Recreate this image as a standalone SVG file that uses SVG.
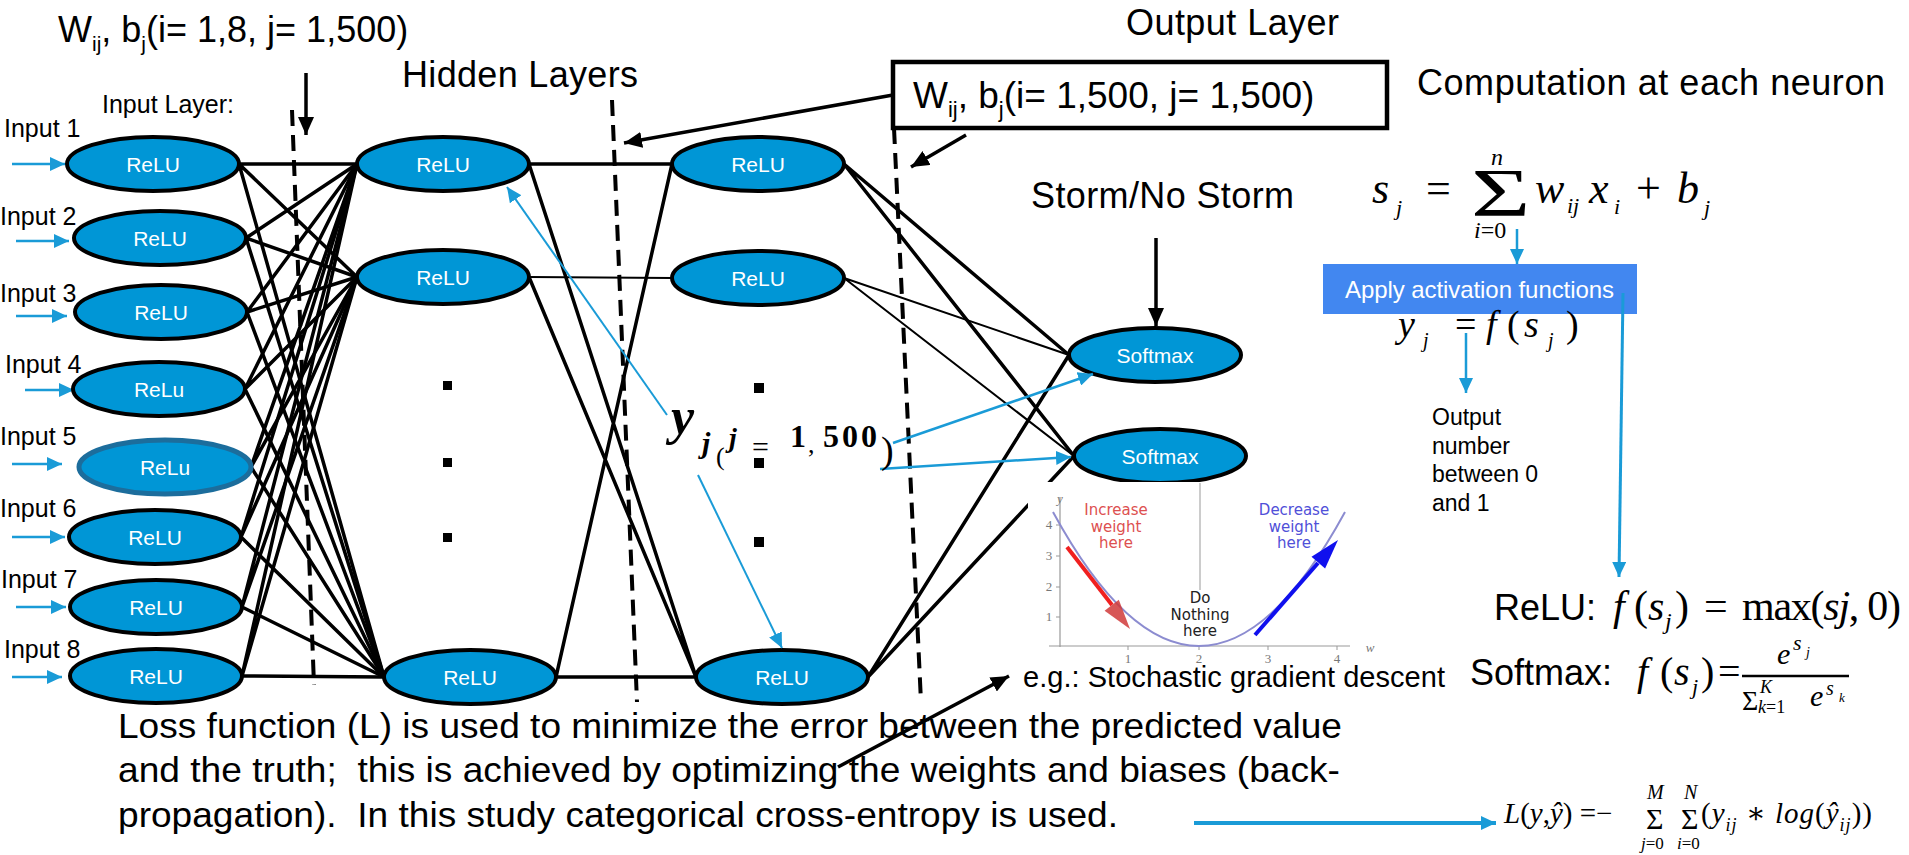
<svg xmlns="http://www.w3.org/2000/svg" width="1909" height="855" viewBox="0 0 1909 855">
<style>
.lbl{font-family:"Liberation Sans",Arial,sans-serif;fill:#000}
.node{fill:#0096d6;stroke:#000;stroke-width:4}
.nt{font-family:"Liberation Sans",Arial,sans-serif;font-size:21px;fill:#fff;text-anchor:middle}
.e{stroke:#000;stroke-width:3.5;fill:none}
.thin{stroke-width:2}
.dash{stroke:#000;stroke-width:4;stroke-dasharray:16 9;fill:none}
.ba{stroke:#1a9bd7;fill:none}
.m{font-family:"Liberation Serif","Times New Roman","DejaVu Serif",serif;fill:#000}
.it{font-style:italic}
.up{font-style:normal}
.pt{font-family:"DejaVu Sans","Liberation Sans",sans-serif;font-size:15px;text-anchor:middle}
.tk{font-family:"Liberation Serif",serif;font-size:13px;fill:#777;text-anchor:middle}
</style>
<defs>
<marker id="ak" markerUnits="userSpaceOnUse" markerWidth="20" markerHeight="16" refX="18" refY="8" orient="auto"><path d="M0,0 L18,8 L0,16 Z" fill="#000"/></marker>
<marker id="ab" markerUnits="userSpaceOnUse" markerWidth="16" markerHeight="14" refX="15" refY="7" orient="auto"><path d="M0,0 L15,7 L0,14 Z" fill="#1a9bd7"/></marker>
</defs>
<rect width="1909" height="855" fill="#fff"/>

<!-- connectors -->
<g id="connectors">
<g class="e">
<path d="M239,164 L357,164 M239,164 L357,277 M239,164 L384,677"/>
<path d="M246,238 L357,164 M246,238 L357,277 M246,238 L384,677"/>
<path d="M247,312 L357,164 M247,312 L357,277 M247,312 L384,677"/>
<path d="M245,389 L357,164 M245,389 L357,277 M245,389 L384,677"/>
<path d="M251,467 L357,164 M251,467 L357,277 M251,467 L384,677"/>
<path d="M241,537 L357,164 M241,537 L357,277 M241,537 L384,677"/>
<path d="M242,607 L357,164 M242,607 L357,277 M242,607 L384,677"/>
<path d="M242,676 L357,164 M242,676 L357,277 M242,676 L384,677"/>
<path d="M529,164 L672,164 M556,677 L696,677 M529,164 L696,677 M529,277 L696,677 M556,677 L672,164"/>
<path class="thin" d="M529,277 L672,278"/>
<path d="M844,164 L1069,355 M844,164 L1074,456 M868,677 L1069,355 M868,677 L1074,456"/>
<path class="thin" d="M844,278 L1069,355 M844,278 L1074,456"/>
</g>
<path class="dash" d="M292,110 L314,685"/>
<path class="dash" d="M612,100 L637,702"/>
<path class="dash" d="M894,128 L921,702"/>
<g class="e" marker-end="url(#ak)">
<path d="M306,73 L306,135"/>
<path d="M893,95 L624,143"/>
<path d="M966,135 L911,167"/>
<path d="M1156,238 L1156,326"/>
<path d="M838,767 L1009,676"/>
</g>
<g class="ba" stroke-width="2.5" marker-end="url(#ab)">
<path d="M12,164 L65,164"/>
<path d="M16,241 L69,241"/>
<path d="M16,316 L67,316"/>
<path d="M25,390 L74,390"/>
<path d="M12,464 L62,464"/>
<path d="M12,537 L65,537"/>
<path d="M16,607 L66,607"/>
<path d="M12,677 L62,677"/>
</g>
</g>

<!-- input layer nodes -->
<g id="input1"><ellipse class="node" cx="153" cy="164" rx="86" ry="27"/><text class="nt" x="153" y="172">ReLU</text></g>
<g id="input2"><ellipse class="node" cx="160" cy="238" rx="86" ry="27"/><text class="nt" x="160" y="246">ReLU</text></g>
<g id="input3"><ellipse class="node" cx="161" cy="312" rx="86" ry="27"/><text class="nt" x="161" y="320">ReLU</text></g>
<g id="input4"><ellipse class="node" cx="159" cy="389" rx="86" ry="27"/><text class="nt" x="159" y="397">ReLu</text></g>
<g id="input5"><ellipse class="node" cx="165" cy="467" rx="86" ry="27" style="stroke:#1c6d9c;stroke-width:5"/><text class="nt" x="165" y="475">ReLu</text></g>
<g id="input6"><ellipse class="node" cx="155" cy="537" rx="86" ry="27"/><text class="nt" x="155" y="545">ReLU</text></g>
<g id="input7"><ellipse class="node" cx="156" cy="607" rx="86" ry="27"/><text class="nt" x="156" y="615">ReLU</text></g>
<g id="input8"><ellipse class="node" cx="156" cy="676" rx="86" ry="27"/><text class="nt" x="156" y="684">ReLU</text></g>

<!-- hidden layer 1 -->
<g id="h1a"><ellipse class="node" cx="443" cy="164" rx="86" ry="27"/><text class="nt" x="443" y="172">ReLU</text></g>
<g id="h1b"><ellipse class="node" cx="443" cy="277" rx="86" ry="27"/><text class="nt" x="443" y="285">ReLU</text></g>
<g id="h1c"><ellipse class="node" cx="470" cy="677" rx="86" ry="27"/><text class="nt" x="470" y="685">ReLU</text></g>
<g id="h1dots" fill="#000"><rect x="443" y="381" width="9" height="9"/><rect x="443" y="458" width="9" height="9"/><rect x="443" y="533" width="9" height="9"/></g>

<!-- hidden layer 2 -->
<g id="h2a"><ellipse class="node" cx="758" cy="164" rx="86" ry="27"/><text class="nt" x="758" y="172">ReLU</text></g>
<g id="h2b"><ellipse class="node" cx="758" cy="278" rx="86" ry="27"/><text class="nt" x="758" y="286">ReLU</text></g>
<g id="h2c"><ellipse class="node" cx="782" cy="677" rx="86" ry="27"/><text class="nt" x="782" y="685">ReLU</text></g>
<g id="h2dots" fill="#000"><rect x="754" y="383" width="10" height="10"/><rect x="754" y="458" width="10" height="10"/><rect x="754" y="537" width="10" height="10"/></g>

<!-- output layer -->
<g id="out1"><ellipse class="node" cx="1155" cy="355" rx="86" ry="27"/><text class="nt" x="1155" y="363">Softmax</text></g>
<g id="out2"><ellipse class="node" cx="1160" cy="456" rx="86" ry="27"/><text class="nt" x="1160" y="464">Softmax</text></g>

<!-- gradient descent plot -->
<g id="plot">
<rect x="1028" y="482" width="352" height="184" fill="#fff"/>
<path d="M1060,497 L1060,647 M1049,646 L1350,646" stroke="#999" stroke-width="1.2" fill="none"/>
<path d="M1128,646 v4 M1199,646 v4 M1268,646 v4 M1337,646 v4 M1060,525 h-4 M1060,556 h-4 M1060,587 h-4 M1060,617 h-4" stroke="#999" stroke-width="1" fill="none"/>
<path d="M1200,483 L1200,590" stroke="#999" stroke-width="1" fill="none"/>
<path d="M1053,512 Q1199,780 1345,512" stroke="#8c8cd0" stroke-width="2" fill="none"/>
<text class="tk" x="1049" y="529">4</text><text class="tk" x="1049" y="560">3</text><text class="tk" x="1049" y="591">2</text><text class="tk" x="1049" y="621">1</text>
<text class="tk" x="1128" y="663">1</text><text class="tk" x="1199" y="663">2</text><text class="tk" x="1268" y="663">3</text><text class="tk" x="1337" y="663">4</text>
<text class="tk it" x="1060" y="503">y</text><text class="tk it" x="1370" y="652">w</text>
<text class="pt" fill="#dd5050"><tspan x="1116" y="515">Increase</tspan><tspan x="1116" y="532">weight</tspan><tspan x="1116" y="548">here</tspan></text>
<text class="pt" fill="#5050d8"><tspan x="1294" y="515">Decrease</tspan><tspan x="1294" y="532">weight</tspan><tspan x="1294" y="548">here</tspan></text>
<text class="pt" fill="#222"><tspan x="1200" y="603">Do</tspan><tspan x="1200" y="620">Nothing</tspan><tspan x="1200" y="636">here</tspan></text>
<path d="M1067,547 L1112,605" stroke="#f02020" stroke-width="4" fill="none"/>
<path d="M1130,629 L1104.6,610.7 L1118.8,599.7 Z" fill="#d03a3a" fill-opacity="0.85"/>
<path d="M1255,635 L1318,563" stroke="#1010ee" stroke-width="4" fill="none"/>
<path d="M1338,540 L1325.1,568.5 L1311.5,556.7 Z" fill="#1010ee"/>
</g>

<!-- blue annotation arrows -->
<g class="ba" marker-end="url(#ab)">
<path d="M667,415 L507,187" stroke-width="2"/>
<path d="M698,475 L782,648" stroke-width="2"/>
<path d="M893,443 L1093,374" stroke-width="2.5"/>
<path d="M880,469 L1071,457" stroke-width="2.5"/>
</g>

<!-- labels -->
<text class="lbl" x="58" y="42" font-size="36">W<tspan font-size="21" dy="9">ij</tspan><tspan dy="-9">, b</tspan><tspan font-size="21" dy="9">j</tspan><tspan dy="-9">(i= 1,8, j= 1,500)</tspan></text>
<text class="lbl" x="402" y="87" font-size="36" textLength="236">Hidden Layers</text>
<text class="lbl" x="102" y="113" font-size="25">Input Layer:</text>
<g class="lbl" font-size="25">
<text x="4" y="137">Input 1</text>
<text x="0" y="225">Input 2</text>
<text x="0" y="302">Input 3</text>
<text x="5" y="373">Input 4</text>
<text x="0" y="445">Input 5</text>
<text x="0" y="517">Input 6</text>
<text x="1" y="588">Input 7</text>
<text x="4" y="658">Input 8</text>
</g>
<text class="lbl" x="1126" y="35" font-size="36" textLength="213">Output Layer</text>
<g id="wbox"><rect x="893" y="62" width="494" height="66" fill="#fff" stroke="#000" stroke-width="4.5"/>
<text class="lbl" x="913" y="108" font-size="37">W<tspan font-size="22" dy="9">ij</tspan><tspan dy="-9">, b</tspan><tspan font-size="22" dy="9">j</tspan><tspan dy="-9">(i= 1,500, j= 1,500)</tspan></text></g>
<text class="lbl" x="1031" y="208" font-size="36" textLength="263">Storm/No Storm</text>

<!-- y_j label -->
<g class="m" font-weight="bold">
<text x="671" y="434" font-size="52" class="it">y</text>
<text x="702" y="453" font-size="30" class="it">j</text>
<text x="716" y="465" font-size="26" font-weight="normal">(</text>
<text x="729" y="447" font-size="28" class="it">j</text>
<text x="752" y="457" font-size="30" font-weight="normal">=</text>
<text x="790" y="447" font-size="32">1</text>
<text x="808" y="453" font-size="26" font-weight="normal">,</text>
<text x="823" y="447" font-size="32" letter-spacing="3">500</text>
<text x="881" y="463" font-size="38" font-weight="normal">)</text>
</g>

<!-- loss text -->
<g class="lbl" font-size="35">
<text x="118" y="738" textLength="1224" lengthAdjust="spacingAndGlyphs">Loss function (L) is used to minimize the error between the predicted value</text>
<text x="118" y="782" textLength="1222" lengthAdjust="spacingAndGlyphs" xml:space="preserve">and the truth;  this is achieved by optimizing the weights and biases (back-</text>
<text x="118" y="827" textLength="1000" lengthAdjust="spacingAndGlyphs" xml:space="preserve">propagation).  In this study categorical cross-entropy is used.</text>
</g>
<text class="lbl" x="1023" y="687" font-size="29" textLength="422">e.g.: Stochastic gradient descent</text>

<!-- computation panel -->
<text class="lbl" x="1417" y="95" font-size="36" textLength="468">Computation at each neuron</text>
<g class="m it">
<text x="1372" y="203" font-size="44">s</text><text x="1396" y="215" font-size="22">j</text>
<text x="1426" y="203" font-size="44" class="up">=</text>
<text transform="translate(1471,215) scale(1.5,1)" font-size="68" class="up">Σ</text>
<text x="1491" y="165" font-size="24">n</text>
<text x="1474" y="238" font-size="24">i<tspan class="up">=0</tspan></text>
<text x="1535" y="203" font-size="44">w</text><text x="1567" y="213" font-size="22">ij</text>
<text x="1589" y="203" font-size="44">x</text><text x="1614" y="214" font-size="22">i</text>
<text x="1636" y="203" font-size="44" class="up">+</text>
<text x="1677" y="203" font-size="44">b</text><text x="1704" y="215" font-size="22">j</text>
</g>
<g id="activation"><rect x="1323" y="264" width="314" height="50" fill="#4287f0"/>
<text class="lbl" x="1345" y="298" font-size="24" style="fill:#fff" textLength="269">Apply activation functions</text></g>
<g class="m it">
<text x="1398" y="337" font-size="38">y</text><text x="1423" y="347" font-size="20">j</text>
<text x="1455" y="337" font-size="38" class="up">=</text>
<text x="1486" y="337" font-size="38">f</text>
<text x="1507" y="337" font-size="38" class="up">(</text>
<text x="1524" y="337" font-size="38">s</text><text x="1548" y="347" font-size="20">j</text>
<text x="1566" y="337" font-size="38" class="up">)</text>
</g>
<text class="lbl" font-size="23"><tspan x="1432" y="425">Output</tspan><tspan x="1432" y="454">number</tspan><tspan x="1432" y="482">between 0</tspan><tspan x="1432" y="511">and 1</tspan></text>
<g class="ba" marker-end="url(#ab)" stroke-width="2.5">
<path d="M1517,229 L1517,264"/>
<path d="M1466,333 L1466,393"/>
<path d="M1623,293 L1619,577" stroke-width="3"/>
<path d="M1194,823 L1496,823" stroke-width="4"/>
</g>

<!-- ReLU formula -->
<text class="lbl" x="1494" y="620" font-size="36">ReLU:</text>
<g class="m" font-size="42">
<text x="1613" y="620" class="it">f</text>
<text x="1634" y="620">(</text>
<text x="1648" y="620" class="it">s</text>
<text x="1665" y="629" class="it" font-size="24">j</text>
<text x="1675" y="620">)</text>
<text x="1704" y="620">=</text>
<text x="1742" y="620" textLength="159">max(<tspan class="it">sj</tspan>, 0)</text>
</g>

<!-- Softmax formula -->
<text class="lbl" x="1470" y="685" font-size="36">Softmax:</text>
<g class="m" font-size="40">
<text x="1637" y="685" class="it">f</text>
<text x="1660" y="685">(</text>
<text x="1674" y="685" class="it">s</text>
<text x="1692" y="694" class="it" font-size="22">j</text>
<text x="1701" y="685">)</text>
<text x="1718" y="685">=</text>
</g>
<path d="M1742,676 L1849,676" stroke="#000" stroke-width="2.5"/>
<g class="m it">
<text x="1777" y="664" font-size="30">e</text><text x="1793" y="650" font-size="22">s</text><text x="1806" y="657" font-size="14">j</text>
<text x="1742" y="710" font-size="28" class="up">Σ</text>
<text x="1760" y="693" font-size="18">K</text><text x="1758" y="713" font-size="18">k<tspan class="up">=1</tspan></text>
<text x="1810" y="706" font-size="30">e</text><text x="1826" y="695" font-size="20">s</text><text x="1839" y="702" font-size="13">k</text>
</g>

<!-- Loss formula -->
<g class="m it">
<text x="1504" y="823" font-size="29">L<tspan class="up">(</tspan>y<tspan class="up">,</tspan>ŷ<tspan class="up">) =−</tspan></text>
<text x="1646" y="829" font-size="30" class="up">Σ</text>
<text x="1681" y="829" font-size="30" class="up">Σ</text>
<text x="1647" y="799" font-size="20">M</text><text x="1684" y="799" font-size="20">N</text>
<text x="1641" y="849" font-size="17">j<tspan class="up">=0</tspan></text><text x="1677" y="849" font-size="17">i<tspan class="up">=0</tspan></text>
<text x="1701" y="823" font-size="29" textLength="171"><tspan class="up">(</tspan>y<tspan font-size="18" dy="8">ij</tspan><tspan dy="-8" class="up"> ∗ </tspan>log<tspan class="up">(</tspan>ŷ<tspan font-size="18" dy="8">ij</tspan><tspan dy="-8" class="up">))</tspan></text>
</g>
</svg>
